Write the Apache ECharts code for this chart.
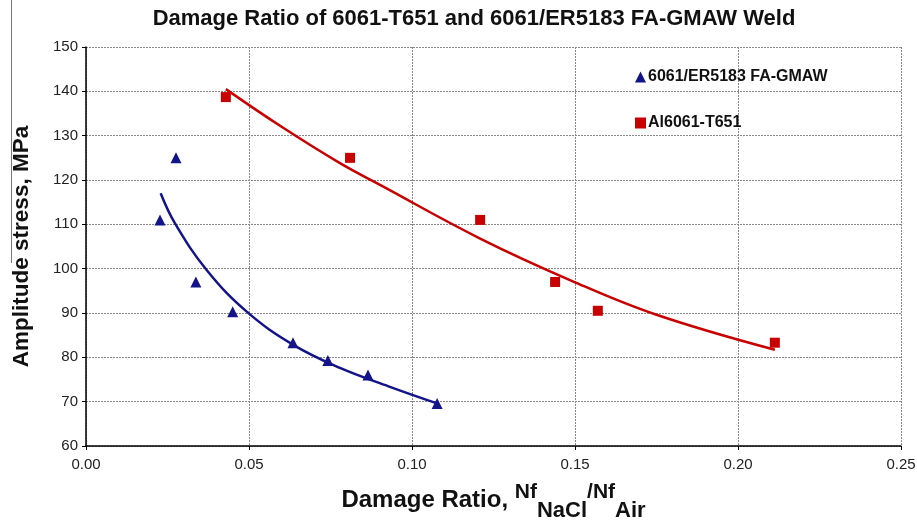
<!DOCTYPE html>
<html><head><meta charset="utf-8">
<script src="https://cdn.jsdelivr.net/npm/echarts@6/dist/echarts.min.js"></script>
<style>html,body{margin:0;padding:0;background:#fff;overflow:hidden}#c{width:917px;height:521px}</style>
</head><body><div id="c"></div>
<script>
// Measured points: 6061/ER5183 FA-GMAW weld
const weldX = [0.0227, 0.0276, 0.0337, 0.0450, 0.0635, 0.0742, 0.0865, 0.1077];
const weldY = [111, 125, 97, 90.3, 83.3, 79.3, 76, 69.6];
// Measured points: Al6061-T651
const baseX = [0.0429, 0.0810, 0.1209, 0.1439, 0.1570, 0.2113];
const baseY = [138.7, 125, 111, 97, 90.5, 83.3];
// Trend lines
const weldTrendX = [0.0229, 0.0273, 0.0370, 0.0493, 0.0636, 0.0779, 0.0930, 0.1077];
const weldTrendY = [117, 110.2, 99.7, 90.3, 82.8, 77.6, 73.4, 69.6];
const baseTrendX = [0.0429, 0.0600, 0.0779, 0.0902, 0.1209, 0.1495, 0.1750, 0.2113];
const baseTrendY = [140.5, 132.0, 123.8, 118.9, 106.8, 97.1, 89.6, 81.7];

const names = ['6061/ER5183 FA-GMAW', 'Al6061-T651'];
const blue = '#14148a', red = '#c80000';
const zip = (xs, ys) => xs.map((x, i) => [x, ys[i]]);
const FONT = 'Liberation Sans, Arial, sans-serif';

const chart = echarts.init(document.getElementById('c'), null, {renderer: 'canvas', width: 917, height: 521});
chart.setOption({
  animation: false,
  backgroundColor: '#fff',
  title: {
    text: 'Damage Ratio of 6061-T651 and 6061/ER5183 FA-GMAW Weld',
    left: 469, top: 3, textAlign: 'center',
    textStyle: {fontFamily: FONT, fontWeight: 'bold', fontSize: 22, color: '#111'}
  },
  legend: {
    data: [{name: names[0], icon: 'triangle'}, {name: names[1], icon: 'rect'}],
    orient: 'vertical', left: 630, top: 64, itemGap: 30,
    itemWidth: 11, itemHeight: 11,
    textStyle: {fontFamily: FONT, fontWeight: 'bold', fontSize: 16, color: '#111', padding: [0, 0, 0, -3]}
  },
  grid: {left: 86, right: 16, top: 47, height: 399, containLabel: false, outerBoundsMode: 'none'},
  xAxis: {
    type: 'value', min: 0, max: 0.25, interval: 0.05,
    axisLine: {show: true, onZero: false, lineStyle: {color: '#000', width: 1.5}},
    axisTick: {show: true, length: 4, lineStyle: {color: '#000'}},
    axisLabel: {formatter: v => v.toFixed(2), fontFamily: FONT, fontSize: 15, color: '#222', margin: 11},
    splitLine: {show: true, lineStyle: {color: '#888', type: [2, 1], width: 1}},
    name: '{m|Damage Ratio, }{n|Nf}{s|NaCl}{n|/Nf}{s|Air}',
    nameLocation: 'middle', nameGap: 38,
    nameTextStyle: {
      rich: {
        m: {fontFamily: FONT, fontWeight: 'bold', fontSize: 24, color: '#111', verticalAlign: 'bottom', lineHeight: 28},
        n: {fontFamily: FONT, fontWeight: 'bold', fontSize: 21, color: '#111', verticalAlign: 'bottom', lineHeight: 28, padding: [0, 0, 9, 0]},
        s: {fontFamily: FONT, fontWeight: 'bold', fontSize: 22, color: '#111', verticalAlign: 'bottom', lineHeight: 28, padding: [0, 0, -10, 0]}
      }
    }
  },
  yAxis: {
    type: 'value', min: 60, max: 150, interval: 10,
    axisLine: {show: true, onZero: false, lineStyle: {color: '#000', width: 1.5}},
    axisTick: {show: true, length: 4, lineStyle: {color: '#000'}},
    axisLabel: {fontFamily: FONT, fontSize: 15, color: '#222', margin: 8},
    splitLine: {show: true, lineStyle: {color: '#888', type: [2, 1], width: 1}},
    name: 'Amplitude stress, MPa', nameLocation: 'middle', nameGap: 53, nameRotate: 90,
    nameTextStyle: {fontFamily: FONT, fontWeight: 'bold', fontSize: 22.5, color: '#111'}
  },
  graphic: [{type: 'line', shape: {x1: 11.5, y1: 0, x2: 11.5, y2: 263}, style: {stroke: '#777', lineWidth: 1}, z: 100}],
  series: [
    {name: names[0] + ' trend', type: 'line', data: zip(weldTrendX, weldTrendY), smooth: 0.4, symbol: 'none',
     lineStyle: {color: blue, width: 2.5}, z: 2},
    {name: names[1] + ' trend', type: 'line', data: zip(baseTrendX, baseTrendY), smooth: 0.4, symbol: 'none',
     lineStyle: {color: red, width: 2.5}, z: 2},
    {name: names[0], type: 'scatter', data: zip(weldX, weldY), symbol: 'triangle', symbolSize: 11,
     itemStyle: {color: blue, opacity: 1}, z: 3},
    {name: names[1], type: 'scatter', data: zip(baseX, baseY), symbol: 'rect', symbolSize: 10,
     itemStyle: {color: red, opacity: 1}, z: 3}
  ]
});
</script></body></html>
